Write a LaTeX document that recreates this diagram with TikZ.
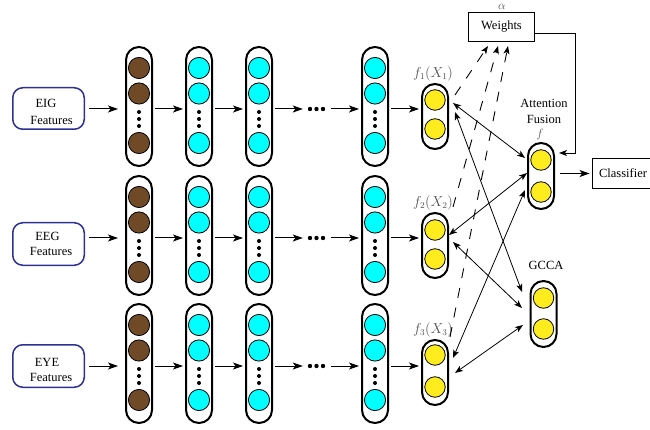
\documentclass[tikz,border=0pt]{standalone}
\usepackage{fontspec}
\setmainfont{Liberation Serif}
\usetikzlibrary{arrows.meta,calc}
\definecolor{nbrown}{RGB}{112,74,38}
\definecolor{ncyan}{RGB}{0,255,255}
\definecolor{nyellow}{RGB}{255,236,30}
\definecolor{fblue}{RGB}{46,49,146}
\definecolor{lblgray}{RGB}{80,80,80}
\begin{document}
\begin{tikzpicture}[x=1pt,y=-1pt,
  every node/.style={font=\fontsize{12.5}{15}\selectfont},
  capsule/.style={draw, line width=2pt, rounded corners=12.9pt, minimum width=26pt, inner sep=0pt},
  neuron/.style={circle, draw, line width=0.8pt, minimum size=21.2pt, inner sep=0pt},
  yneuron/.style={circle, draw, line width=0.8pt, minimum size=20.5pt, inner sep=0pt, fill=nyellow},
  featbox/.style={draw=fblue, line width=1.5pt, rounded corners=10pt, minimum width=71.5pt, inner sep=0pt},
  txt/.style={inner sep=0pt},
  harrow/.style={line width=1pt, -{Stealth[length=10pt,width=7pt,inset=2.5pt]}, shorten <=2pt, shorten >=2pt},
  barrow/.style={line width=0.8pt, {Stealth[length=8pt,width=6pt,inset=2pt]}-{Stealth[length=8pt,width=6pt,inset=2pt]}},
  darrow/.style={line width=0.9pt, dash pattern=on 10pt off 10pt, -{Stealth[length=8pt,width=6pt,inset=2pt]}},
  plainbox/.style={draw, line width=0.9pt, inner sep=0pt}
]
\useasboundingbox (0,0) rectangle (650,430);
\clip (0,0) rectangle (650,430);

% feature boxes
\node[featbox, minimum height=41.5pt] (fb1) at (48.5,108.5) {};
\node[featbox, minimum height=42.5pt] (fb2) at (48.5,244) {};
\node[featbox, minimum height=42.5pt] (fb3) at (48.5,366) {};
\node[txt] (t1a) at (46,103.5) {EIG};
\node[txt] (t1b) at (51.5,120) {Features};
\node[txt] (t2a) at (47.5,236) {EEG};
\node[txt] (t2b) at (51,251.5) {Features};
\node[txt] (t3a) at (47,362) {EYE};
\node[txt] (t3b) at (51,377.5) {Features};

% hidden layers
\foreach \r/\T in {1/46,2/175,3/303} {
  \coordinate (y\r) at (0,\T+63);
  \foreach \c/\X/\col in {1/139/nbrown,2/199/ncyan,3/259/ncyan,4/375/ncyan} {
    \node[capsule, minimum height=119pt] (cap\r\c) at (\X,\T+60.5) {};
    \node[neuron, fill=\col] (n\r\c-a) at (\X,\T+22) {};
    \node[neuron, fill=\col] (n\r\c-b) at (\X,\T+47.5) {};
    \node[neuron, fill=\col] (n\r\c-c) at (\X,\T+97) {};
    \fill (\X,\T+66) circle (2pt) (\X,\T+73) circle (2pt) (\X,\T+80) circle (2pt);
  }
  \node[minimum width=19pt, minimum height=5pt, inner sep=0pt] (ell\r) at (316.5,\T+63) {};
  \fill (310,\T+63) circle (2.2pt) (316.5,\T+63) circle (2.2pt) (323,\T+63) circle (2.2pt);
}

% output capsules
\foreach \r/\T/\a/\b in {1/83/100/129,2/212/230/259,3/339/355/387} {
  \node[capsule, minimum height=65pt] (yel\r) at (435,\T+33.5) {};
  \node[yneuron] (y\r-a) at (435,\a) {};
  \node[yneuron] (y\r-b) at (435,\b) {};
  \node[txt, text=lblgray, font=\fontsize{13.5}{15}\selectfont] (lab\r) at (433,\T-9) {$f_\r(X_\r)$};
}

% row arrows
\foreach \r in {1,2,3} {
  \draw[harrow, shorten <=4pt, shorten >=7pt] (fb\r.east |- y\r) -- (cap\r1.west |- y\r);
  \draw[harrow] (cap\r1.east |- y\r) -- (cap\r2.west |- y\r);
  \draw[harrow] (cap\r2.east |- y\r) -- (cap\r3.west |- y\r);
  \draw[harrow, shorten >=4pt] (cap\r3.east |- y\r) -- (ell\r.west);
  \draw[harrow, shorten <=5pt] (ell\r.east) -- (cap\r4.west |- y\r);
  \draw[harrow] (cap\r4.east |- y\r) -- (yel\r.west |- y\r);
}

% attention fusion and GCCA
\node[capsule, minimum height=66pt] (af) at (541,176) {};
\node[yneuron] (af-a) at (541,160) {};
\node[yneuron] (af-b) at (541,192) {};
\node[txt] (aft1) at (544,103) {Attention};
\node[txt] (aft2) at (544,119) {Fusion};
\node[txt, text=lblgray] (flab) at (540,135) {$f$};

\node[capsule, minimum height=66pt] (gc) at (543.5,314) {};
\node[yneuron] (gc-a) at (543.5,298) {};
\node[yneuron] (gc-b) at (543.5,329) {};
\node[txt] (gct) at (546,265) {GCCA};

% weights and classifier
\node[plainbox, minimum width=66pt, minimum height=29pt] (wt) at (501.5,27) {Weights};
\node[txt, text=lblgray] (alpha) at (502,6.5) {$\alpha$};
\node[plainbox, minimum width=62pt, minimum height=30pt] (cls) at (623,173.5) {Classifier};

\coordinate (wtr) at (535,33);
\coordinate (afin) at (559,153);
\draw[line width=0.9pt, -{Stealth[length=8pt,width=6pt,inset=2pt]}] (wtr) -- ++(40,0) |- (afin);
\draw[harrow, shorten <=5pt] (af.east |- cls.west) -- (cls.west);

% bidirectional connectors
\coordinate (p1a) at (453,103);  \coordinate (q1a) at (525,158);
\coordinate (p1b) at (455,112);  \coordinate (q1b) at (522,292);
\coordinate (p2a) at (449,235);  \coordinate (q2a) at (527,173);
\coordinate (p2b) at (453,242);  \coordinate (q2b) at (522,308);
\coordinate (p3a) at (453,358);  \coordinate (q3a) at (525,190);
\coordinate (p3b) at (455,373);  \coordinate (q3b) at (523,325);
\draw[barrow] (p1a) -- (q1a);
\draw[barrow] (p1b) -- (q1b);
\draw[barrow] (p2a) -- (q2a);
\draw[barrow] (p2b) -- (q2b);
\draw[barrow] (p3a) -- (q3a);
\draw[barrow] (p3b) -- (q3b);

% dashed connectors to weights
\coordinate (d1s) at (455,95);   \coordinate (d1e) at (488,46);
\coordinate (d2s) at (453,207);  \coordinate (d2e) at (498,46);
\coordinate (d3s) at (450,337);  \coordinate (d3e) at (508,46);
\draw[darrow] (d1s) -- (d1e);
\draw[darrow] (d2s) -- (d2e);
\draw[darrow] (d3s) -- (d3e);
\end{tikzpicture}
\end{document}
